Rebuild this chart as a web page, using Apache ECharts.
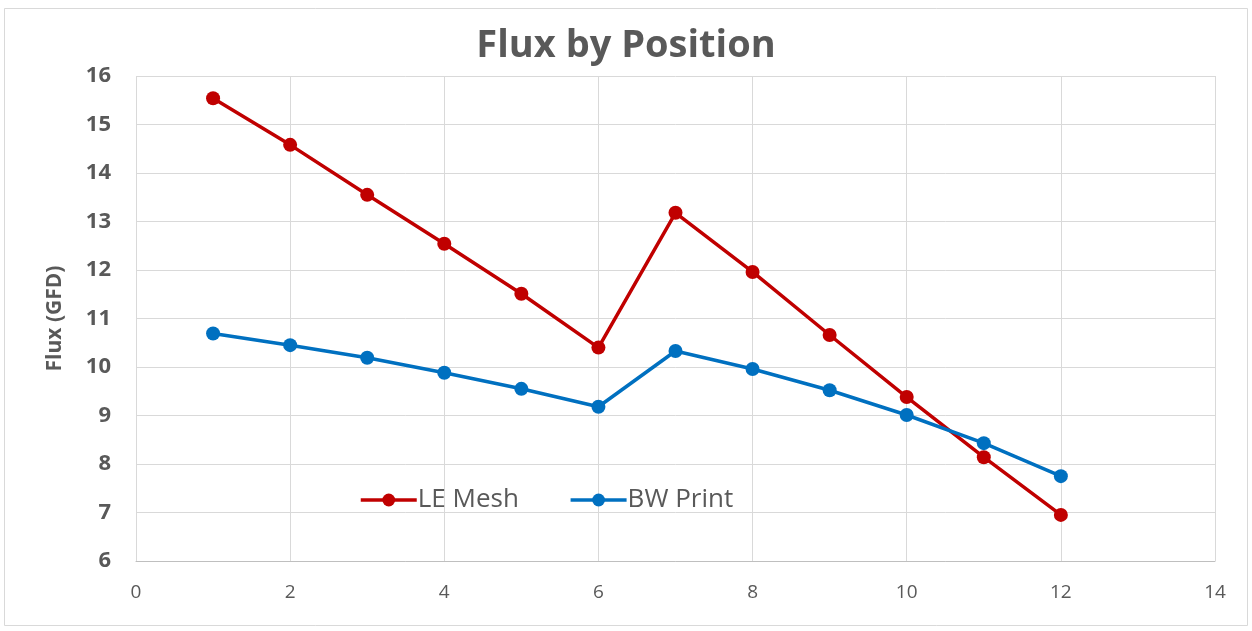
<!DOCTYPE html>
<html><head><meta charset="utf-8">
<script src="https://cdn.jsdelivr.net/npm/echarts@6/dist/echarts.min.js"></script>
<style>html,body{margin:0;padding:0;background:#fff}#c{width:1252px;height:631px}</style>
</head><body><div id="c"></div>
<script>
const positions = [1,2,3,4,5,6,7,8,9,10,11,12];
const leMesh = [15.54,14.58,13.55,12.54,11.51,10.40,13.18,11.96,10.66,9.38,8.14,6.95];
const bwPrint = [10.69,10.45,10.19,9.88,9.55,9.18,10.33,9.96,9.52,9.01,8.43,7.75];
const FONT = '"Open Sans", sans-serif';
const chart = echarts.init(document.getElementById('c'));
chart.setOption({
  animation:false,
  backgroundColor:'#fff',
  graphic:[{type:'rect',shape:{x:4.5,y:8.5,width:1243,height:617},style:{fill:'none',stroke:'#d9d9d9',lineWidth:1},silent:true}],
  title:{text:'Flux by Position',left:'center',top:22,textStyle:{fontFamily:FONT,fontWeight:'bold',fontSize:38,color:'#595959'}},
  grid:{left:136,right:37,top:76,bottom:70},
  legend:{left:354,top:482,itemWidth:56,itemHeight:16,itemGap:50,
    lineStyle:{width:3.5},
    textStyle:{fontFamily:FONT,fontSize:26,color:'#595959',padding:[0,0,0,-4]},
    data:['LE Mesh','BW Print']},
  xAxis:{type:'value',min:0,max:14,interval:2,
    axisLine:{show:true,lineStyle:{color:'#bfbfbf',width:1}},axisTick:{show:false},
    splitLine:{show:true,lineStyle:{color:'#d9d9d9',width:1}},
    axisLabel:{fontFamily:FONT,fontSize:19,color:'#595959',margin:22}},
  yAxis:{type:'value',min:6,max:16,interval:1,
    name:'Flux (GFD)',nameLocation:'middle',nameGap:70,nameRotate:90,
    nameTextStyle:{fontFamily:FONT,fontWeight:'bold',fontSize:21,color:'#595959'},
    axisLine:{show:false},axisTick:{show:false},
    splitLine:{show:true,lineStyle:{color:'#d9d9d9',width:1}},
    axisLabel:{fontFamily:FONT,fontWeight:'bold',fontSize:22,color:'#595959',margin:25}},
  series:[
    {name:'LE Mesh',type:'line',data:positions.map((p,i)=>[p,leMesh[i]]),symbol:'circle',symbolSize:14,
      lineStyle:{color:'#C00000',width:3.5},itemStyle:{color:'#C00000'}},
    {name:'BW Print',type:'line',data:positions.map((p,i)=>[p,bwPrint[i]]),symbol:'circle',symbolSize:14,
      lineStyle:{color:'#0070C0',width:3.5},itemStyle:{color:'#0070C0'}}
  ]
});
</script></body></html>
